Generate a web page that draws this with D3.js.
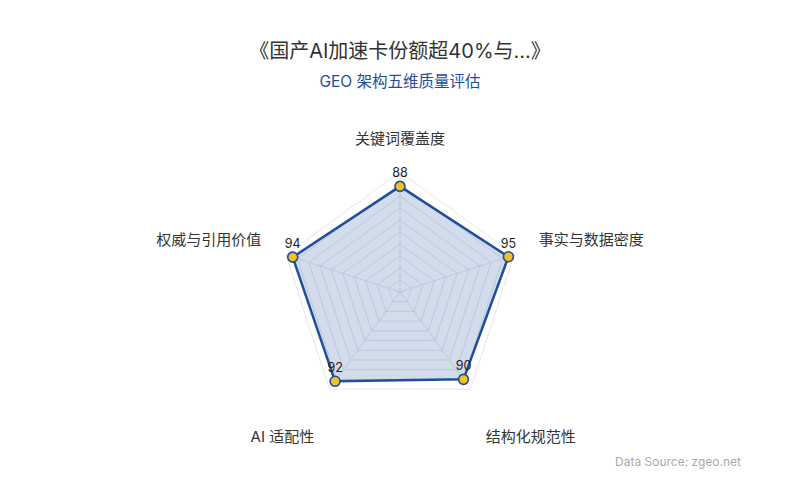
<!DOCTYPE html>
<html>
<head>
<meta charset="utf-8">
<script src="https://cdn.jsdelivr.net/npm/d3@7"></script>
<style>
  body { margin: 0; background: #fff; }
  text { font-family: Inter, "Noto Sans CJK SC", sans-serif; }
</style>
</head>
<body>
<div id="chart"></div>
<script>
// chart data
const indicators = ["关键词覆盖度", "事实与数据密度", "结构化规范性", "AI 适配性", "权威与引用价值"];
const scores = [88, 95, 90, 92, 94];
const maxScore = 100;
const splitCount = 10;

const width = 800, height = 500;
const cx = 400, cy = 292, radius = 120;

const svg = d3.select("#chart")
    .append("svg")
    .attr("width", width)
    .attr("height", height);

// title + subtitle
svg.append("text")
    .attr("x", width / 2).attr("y", 58)
    .attr("text-anchor", "middle")
    .attr("font-size", 20)
    .attr("fill", "#333")
    .text("《国产AI加速卡份额超40%与...》");

svg.append("text")
    .attr("x", width / 2).attr("y", 87)
    .attr("text-anchor", "middle")
    .attr("font-size", 15.5)
    .attr("fill", "#1f4e9c")
    .text("GEO 架构五维质量评估");

// radial scale
const r = d3.scaleLinear().domain([0, maxScore]).range([0, radius]);
const angle = i => -Math.PI / 2 + i * 2 * Math.PI / indicators.length;
const pt = (i, v) => [cx + r(v) * Math.cos(angle(i)), cy + r(v) * Math.sin(angle(i))];

const g = svg.append("g");

// grid pentagons
const levels = d3.range(1, splitCount + 1).map(k => k * maxScore / splitCount);
g.selectAll(".grid")
    .data(levels)
    .enter()
    .append("polygon")
    .attr("class", "grid")
    .attr("points", lv => indicators.map((_, i) => pt(i, lv).join(",")).join(" "))
    .attr("fill", "none")
    .attr("stroke", "#e3e7ef")
    .attr("stroke-width", 1);

// spokes
g.selectAll(".spoke")
    .data(indicators)
    .enter()
    .append("line")
    .attr("x1", cx).attr("y1", cy)
    .attr("x2", (_, i) => pt(i, maxScore)[0])
    .attr("y2", (_, i) => pt(i, maxScore)[1])
    .attr("stroke", "#e3e7ef");

// data area
const dataPoints = scores.map((v, i) => pt(i, v));
g.append("polygon")
    .attr("points", dataPoints.map(p => p.join(",")).join(" "))
    .attr("fill", "rgba(31,78,156,0.2)")
    .attr("stroke", "#1f4e9c")
    .attr("stroke-width", 2.5)
    .attr("stroke-linejoin", "round");

// points
g.selectAll(".dot")
    .data(scores)
    .enter()
    .append("circle")
    .attr("cx", (v, i) => pt(i, v)[0])
    .attr("cy", (v, i) => pt(i, v)[1])
    .attr("r", 5)
    .attr("fill", "#f2c318")
    .attr("stroke", "#1f4e9c")
    .attr("stroke-width", 1.6);

// value labels
g.selectAll(".val")
    .data(scores)
    .enter()
    .append("text")
    .attr("x", (v, i) => pt(i, v)[0])
    .attr("y", (v, i) => pt(i, v)[1] - 9)
    .attr("text-anchor", "middle")
    .attr("font-size", 12.5)
    .attr("fill", "#222")
    .text(d => d);

// indicator names
const nameDist = 146;
g.selectAll(".name")
    .data(indicators)
    .enter()
    .append("text")
    .attr("x", (_, i) => cx + nameDist * Math.cos(angle(i)))
    .attr("y", (_, i) => {
        const s = Math.sin(angle(i));
        return cy + nameDist * s + (s > 0.5 ? 32 : -2);
    })
    .attr("text-anchor", (_, i) => {
        const c = Math.cos(angle(i));
        return Math.abs(c) < 0.01 ? "middle" : (c > 0 ? "start" : "end");
    })
    .attr("font-size", 15)
    .attr("fill", "#333")
    .text(d => d);

// footer
svg.append("text")
    .attr("x", 741).attr("y", 466)
    .attr("text-anchor", "end")
    .attr("font-size", 12)
    .attr("fill", "#aaa")
    .text("Data Source: zgeo.net");
</script>
</body>
</html>
